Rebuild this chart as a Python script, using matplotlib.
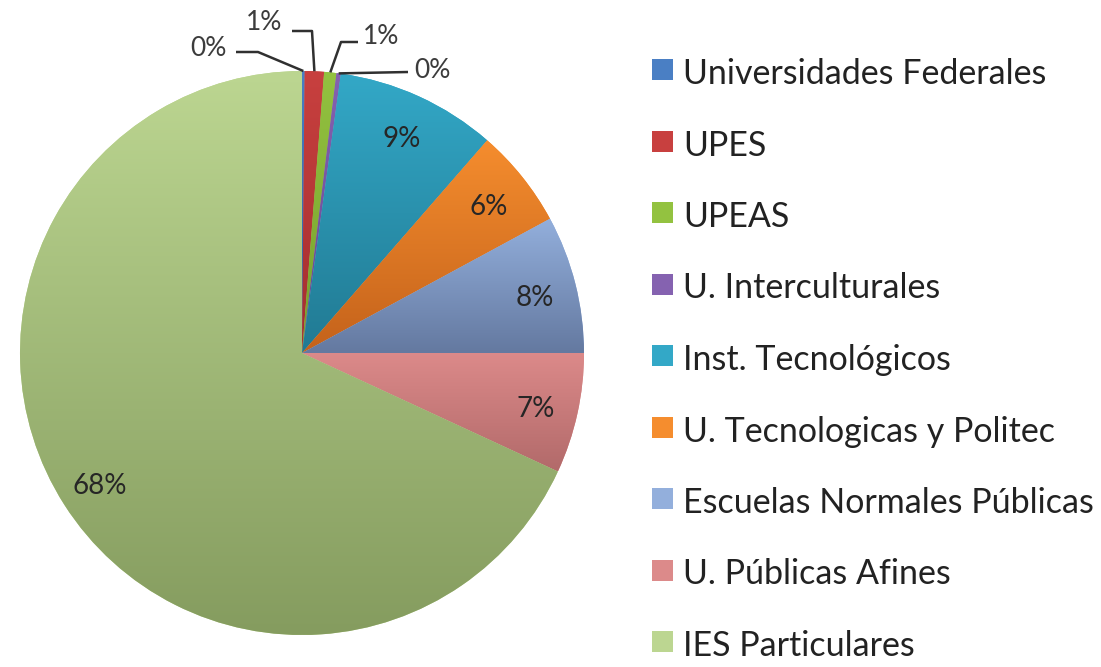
import numpy as np
import matplotlib.pyplot as plt
from matplotlib.colors import LinearSegmentedColormap
from matplotlib.patches import Rectangle

# data
categories = ["Universidades Federales", "UPES", "UPEAS", "U. Interculturales",
              "Inst. Tecnológicos", "U. Tecnologicas y Politec",
              "Escuelas Normales Públicas", "U. Públicas Afines", "IES Particulares"]
shares = [0.15, 1.1, 0.7, 0.25, 9.2, 5.7, 7.9, 6.9, 68.1]

top_colors = ["#4a7fc4", "#c8403f", "#93c240", "#8562b0", "#33a8c7",
              "#f58d2e", "#93afdc", "#dc8a8a", "#bcd691"]
bottom_colors = ["#2d5e9e", "#a32e2e", "#76a02c", "#674690", "#217a93",
                 "#c4621b", "#6479a0", "#b26a6a", "#859c5f"]

W, H = 1101, 667
FONT = "Lato"

fig = plt.figure(figsize=(W / 100, H / 100), dpi=100)
ax = fig.add_axes([0, 0, 1, 1])

# pie laid out in pixel coordinates (y up)
CX, CY, R = 302, H - 353, 282
wedges, _ = ax.pie(shares, radius=R, center=(CX, CY), startangle=90,
                   counterclock=False, colors=top_colors,
                   wedgeprops=dict(linewidth=0))

# vertical gradient per slice, clipped to the wedge
grad = np.linspace(0, 1, 256).reshape(-1, 1)
for w, c0, c1 in zip(wedges, top_colors, bottom_colors):
    ext = w.get_path().get_extents()
    cmap = LinearSegmentedColormap.from_list("g", [c0, c1])
    im = ax.imshow(grad, cmap=cmap, extent=(ext.x0, ext.x1, ext.y0, ext.y1),
                   origin="upper", aspect="auto", interpolation="bilinear", zorder=2)
    im.set_clip_path(w)

def mid_dir(w):
    t = np.deg2rad((w.theta1 + w.theta2) / 2)
    return np.cos(t), np.sin(t)

# labels inside the big slices
for w, s in list(zip(wedges, shares))[4:]:
    dx, dy = mid_dir(w)
    ax.text(CX + 0.85 * R * dx, CY + 0.85 * R * dy - 4, f"{s:.0f}%", ha="center",
            va="center", fontsize=20, family=FONT, color="#262626", zorder=5)

# small slices: labels outside with leader lines (text pos, elbow pos in px from top)
outside = [((208, 48), [(236, 52), (258, 52)]),
           ((264, 22), [(292, 31), (312, 31)]),
           ((381, 37), [(358, 42), (341, 42)]),
           ((432, 70), [(408, 72)])]
for (w, s), (tp, elbow) in zip(list(zip(wedges, shares))[:4], outside):
    dx, dy = mid_dir(w)
    ax_, ay_ = CX + R * dx, CY + R * dy
    xs = [p[0] for p in elbow] + [ax_]
    ys = [H - p[1] for p in elbow] + [ay_]
    ax.plot(xs, ys, color="#303030", lw=1.8, zorder=4, solid_capstyle="butt")
    ax.text(tp[0], H - tp[1], f"{s:.0f}%", ha="center", va="center",
            fontsize=19, family=FONT, color="#3c3c3c", zorder=5)

# legend
for i, (name, c0, c1) in enumerate(zip(categories, top_colors, bottom_colors)):
    yc = H - (74 + i * 71.5)
    ax.add_patch(Rectangle((652, yc - 6), 21, 21, facecolor=c0, edgecolor="none", zorder=3))
    ax.text(683, yc, name, ha="left", va="center", fontsize=24.5, family=FONT,
            color="#222222", zorder=5)

ax.set_xlim(0, W)
ax.set_ylim(0, H)
ax.set_aspect("auto")
ax.axis("off")

fig.savefig("out.png", dpi=100)
